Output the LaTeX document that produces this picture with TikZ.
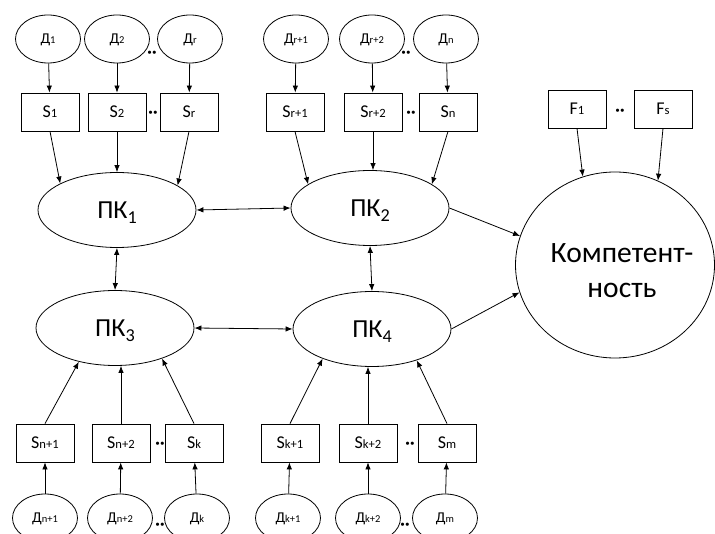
\documentclass[tikz,border=0pt]{standalone}
\usepackage{fontspec}
\setmainfont{Carlito}
\usetikzlibrary{shapes.geometric,arrows.meta}
\newcommand{\lo}[2][0pt]{\raisebox{-#1}[\height][0pt]{\scalebox{0.7}{#2}}}
\tikzset{
  dd/.style={draw,ellipse,minimum width=65pt,minimum height=48pt,inner sep=0pt,text height=9.5pt,text depth=0pt,font=\fontsize{15}{16}\selectfont},
  ss/.style={draw,rectangle,minimum width=58pt,minimum height=38pt,inner sep=0pt,text height=11.6pt,text depth=0pt,font=\fontsize{18}{20}\selectfont},
  pk/.style={draw,ellipse,minimum width=158pt,minimum height=75pt,inner sep=0pt,text height=16.7pt,text depth=0pt,font=\fontsize{26}{28}\selectfont},
  gap/.style={inner sep=0pt,text height=11pt,text depth=0pt,font=\fontsize{17}{17}\selectfont\bfseries}
}
\begin{document}
\begin{tikzpicture}[x=1pt,y=-1pt,line width=0.8pt,>={Latex[length=7pt,width=5.5pt]}]
  \useasboundingbox (0,0) rectangle (715,534);
  \node[dd] (d1) at (48,39) {Д\lo{1}};
  \node[dd] (d2) at (117,39) {Д\lo{2}};
  \node[dd] (dr) at (190,39) {Д\lo{r}};
  \node[gap] (g1) at (152,52) {··};
  \node[dd] (dr1) at (296,39) {Д\lo{r+1}};
  \node[dd] (dr2) at (372,39) {Д\lo{r+2}};
  \node[dd] (dn) at (446,39) {Д\lo{n}};
  \node[gap] (g2) at (406,52) {··};

  \node[ss] (s1) at (50,112) {S\lo{1}};
  \node[ss] (s2) at (117,112) {S\lo{2}};
  \node[ss] (sr) at (189,112) {S\lo{r}};
  \node[gap] (g3) at (153,112) {··};
  \node[ss] (sr1) at (295,112) {S\lo{r+1}};
  \node[ss] (sr2) at (373,112) {S\lo{r+2}};
  \node[ss] (sn) at (448,112) {S\lo{n}};
  \node[gap] (g4) at (411,112) {··};

  \node[ss] (f1) at (577,109) {F\lo{1}};
  \node[ss] (fs) at (663,109) {F\lo{s}};
  \node[gap] (g5) at (620,110) {··};

  \node[draw,ellipse,minimum width=199pt,minimum height=186pt,inner sep=0pt,inner xsep=-25pt,align=center,
    font=\fontsize{29.5}{35}\selectfont] (komp) at (615,265)
    {\rule{0pt}{30pt}\hspace*{14pt}Компетент-\\\hspace*{14pt}ность};

  \node[pk] (pk1) at (117,210) {ПК\lo[5pt]{1}};
  \node[pk] (pk2) at (370,208) {ПК\lo[5pt]{2}};
  \node[pk] (pk3) at (115,328) {ПК\lo[5pt]{3}};
  \node[pk] (pk4) at (372,329) {ПК\lo[5pt]{4}};

  \node[ss] (sn1) at (45,443) {S\lo{n+1}};
  \node[ss] (sn2) at (121,443) {S\lo{n+2}};
  \node[ss] (sk) at (194,443) {S\lo{k}};
  \node[gap] (g6) at (160,443) {··};
  \node[ss] (sk1) at (290,443) {S\lo{k+1}};
  \node[ss] (sk2) at (368,443) {S\lo{k+2}};
  \node[ss] (sm) at (447,443) {S\lo{m}};
  \node[gap] (g7) at (410,443) {··};

  \node[dd] (dn1) at (45,518) {Д\lo{n+1}};
  \node[dd] (dn2) at (120,518) {Д\lo{n+2}};
  \node[dd] (dk) at (197,518) {Д\lo{k}};
  \node[gap] (g8) at (160,524) {··};
  \node[dd] (dk1) at (288,518) {Д\lo{k+1}};
  \node[dd] (dk2) at (368,518) {Д\lo{k+2}};
  \node[dd] (dm) at (445,518) {Д\lo{m}};
  \node[gap] (g9) at (405,524) {··};

  \draw[->] (d1) -- (s1);
  \draw[->] (d2) -- (s2);
  \draw[->] (dr) -- (sr);
  \draw[->] (dr1) -- (sr1);
  \draw[->] (dr2) -- (sr2);
  \draw[->] (dn) -- (sn);

  \draw[->] (s1.south) -- (pk1.155);
  \draw[->] (s2.south) -- (pk1.north);
  \draw[->] (sr.south) -- (pk1.22);
  \draw[->] (sr1.south) -- (pk2.159);
  \draw[->] (sr2.south) -- (sr2.south |- pk2.north);
  \draw[->] (sn.south) -- (pk2.21);

  \draw[->] (f1.south) -- (komp.110);
  \draw[->] (fs.south) -- (komp.63);
  \draw[->] (pk2.east) -- (komp.163);
  \draw[->] (pk4.east) -- (komp.196);

  \draw[<->] (pk1.east) -- (pk2.west);
  \draw[<->] (pk3.east) -- (pk4.west);
  \draw[<->] (pk1.south) -- (pk3.north);
  \draw[<->] (pk2.south) -- (pk4.north);

  \draw[->] (sn1.north) -- (pk3.223);
  \draw[->] (sn2.north) -- (sn2.north |- pk3.south);
  \draw[->] (sk.north) -- (pk3.327);
  \draw[->] (sk1.north) -- (pk4.211);
  \draw[->] (sk2.north) -- (sk2.north |- pk4.south);
  \draw[->] (sm.north) -- (pk4.325);

  \draw[->] (dn1) -- (sn1);
  \draw[->] (dn2) -- (sn2);
  \draw[->] (dk) -- (sk);
  \draw[->] (dk1) -- (sk1);
  \draw[->] (dk2) -- (sk2);
  \draw[->] (dm) -- (sm);
\end{tikzpicture}
\end{document}
